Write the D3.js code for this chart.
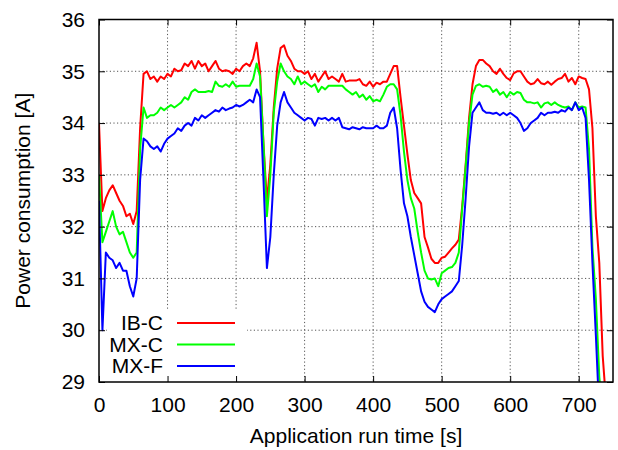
<!DOCTYPE html>
<meta charset="utf-8">
<style>
  body { margin: 0; background: #fff; }
  text { font-family: "Liberation Sans", Arial, sans-serif; font-size: 21px; fill: #000; }
</style>

<!-- Load d3.js -->
<script src="https://d3js.org/d3.v7.min.js"></script>

<div id="my_dataviz"></div>

<script>

    // run time [s]
    const time = [0,5,10,15,20,25,30,35,40,45,50,55,60,65,70,75,80,85,90,95,
        100,105,110,115,120,125,130,135,140,145,150,155,160,165,170,175,180,185,190,195,
        200,205,210,215,220,225,230,235,240,245,250,255,260,265,270,275,280,285,290,295,
        300,305,310,315,320,325,330,335,340,345,350,355,360,365,370,375,380,385,390,395,
        400,405,410,415,420,425,430,435,440,445,450,455,460,465,470,475,480,485,490,495,
        500,505,510,515,520,525,530,535,540,545,550,555,560,565,570,575,580,585,590,595,
        600,605,610,615,620,625,630,635,640,645,650,655,660,665,670,675,680,685,690,695,
        700,705,710,715,720,725,730,735,740];

    // power consumption [A] per configuration
    const ibC = [34.0,32.3,32.55,32.7,32.8,32.65,32.5,32.4,32.2,32.25,32.05,32.3,33.9,34.95,35.0,34.85,34.9,34.8,34.9,34.85,
        34.95,34.9,35.05,35.0,35.02,35.15,35.1,35.2,35.05,35.2,35.1,35.15,35.0,35.1,35.2,35.05,35.0,35.02,35.0,34.95,
        35.05,35.0,35.1,35.15,35.1,35.25,35.55,35.0,33.6,32.5,33.2,34.3,35.05,35.45,35.5,35.3,35.2,35.05,35.0,35.0,
        34.95,35.0,34.85,34.95,34.8,34.9,35.0,34.85,34.9,34.85,34.8,34.95,34.8,34.82,34.82,34.82,34.85,34.75,34.72,34.8,
        34.7,34.78,34.75,34.8,34.8,34.95,35.1,35.1,34.5,33.95,33.4,32.9,32.65,32.55,32.45,31.8,31.6,31.38,31.3,31.3,
        31.4,31.42,31.5,31.58,31.65,31.75,32.4,33.2,34.1,34.75,35.1,35.22,35.22,35.15,35.1,35.0,34.95,35.05,34.95,34.87,
        34.83,34.96,35.0,35.0,34.9,34.8,34.75,34.77,34.85,34.77,34.75,34.8,34.74,34.8,34.85,34.87,34.95,34.8,34.87,34.75,
        34.9,34.87,34.85,34.65,33.9,32.2,31.3,29.5,28.6];

    const mxC = [33.0,31.7,31.9,32.1,32.3,32.0,31.85,31.9,31.7,31.5,31.4,31.5,33.5,34.3,34.1,34.15,34.15,34.2,34.3,34.25,
        34.3,34.35,34.3,34.35,34.4,34.5,34.45,34.6,34.65,34.6,34.6,34.6,34.62,34.6,34.8,34.72,34.7,34.75,34.7,34.8,
        34.7,34.72,34.72,34.72,34.72,34.85,35.15,34.9,33.6,32.2,33.0,34.2,34.8,35.15,35.0,34.9,34.85,34.75,34.9,34.75,
        34.8,34.75,34.7,34.75,34.6,34.7,34.65,34.72,34.72,34.72,34.72,34.72,34.65,34.6,34.55,34.6,34.5,34.55,34.45,34.52,
        34.42,34.45,34.42,34.55,34.7,34.75,34.75,34.65,34.15,33.45,32.9,32.55,32.35,31.9,31.5,31.15,31.0,30.98,31.0,30.85,
        31.1,31.15,31.2,31.22,31.3,31.5,32.35,33.15,34.0,34.55,34.72,34.75,34.7,34.72,34.7,34.6,34.65,34.55,34.6,34.5,
        34.6,34.55,34.6,34.58,34.45,34.4,34.4,34.38,34.4,34.3,34.38,34.4,34.35,34.4,34.35,34.32,34.3,34.32,34.25,34.4,
        34.3,34.32,34.3,33.5,31.6,30.6,29.1,28.4,28.4];

    const mxF = [32.5,30.0,31.5,31.4,31.35,31.2,31.3,31.15,31.15,30.85,30.65,31.0,32.9,33.7,33.65,33.55,33.5,33.55,33.45,33.6,
        33.7,33.75,33.8,33.9,33.85,33.95,34.0,33.95,34.1,34.05,34.15,34.1,34.15,34.2,34.25,34.22,34.3,34.25,34.28,34.3,
        34.35,34.32,34.35,34.4,34.45,34.4,34.65,34.5,32.9,31.2,31.8,33.0,33.95,34.4,34.6,34.4,34.3,34.2,34.15,34.1,
        34.05,34.1,34.08,33.95,34.1,34.08,34.1,34.05,34.1,34.05,34.1,33.92,33.9,33.88,33.92,33.9,33.88,33.92,33.9,33.9,
        33.9,33.95,33.9,33.9,33.95,34.2,34.3,33.9,33.1,32.45,32.2,31.8,31.45,31.1,30.75,30.55,30.45,30.4,30.35,30.5,
        30.6,30.65,30.7,30.75,30.85,30.95,31.65,32.55,33.55,34.2,34.3,34.4,34.25,34.2,34.2,34.18,34.2,34.15,34.2,34.15,
        34.2,34.15,34.1,34.0,33.85,33.9,34.0,34.05,34.1,34.2,34.15,34.2,34.2,34.22,34.2,34.25,34.22,34.3,34.25,34.4,
        34.25,34.3,34.1,32.9,31.3,29.9,28.4,28.4,28.4];

    const seriesNames = ["IB-C", "MX-C", "MX-F"];
    const seriesColors = ["#ff0000", "#00ff00", "#0000ff"];
    const xTicks = [0, 100, 200, 300, 400, 500, 600, 700];
    const yTicks = [29, 30, 31, 32, 33, 34, 35, 36];

    // plot area
    let margin = { top: 19.5, right: 5, bottom: 68, left: 99 },
        W = 618, H = 450,
        width = W - margin.left - margin.right,
        height = H - margin.top - margin.bottom;

    let svg = d3.select("#my_dataviz")
        .append("svg")
        .attr("width", W)
        .attr("height", H)
        .append("g")
        .attr("transform", "translate(" + margin.left + "," + margin.top + ")");

    let x = d3.scaleLinear().domain([0, 750]).range([0, width]);
    let y = d3.scaleLinear().domain([29, 36]).range([height, 0]);

    // dotted grid
    let grid = svg.append("g").attr("stroke", "#555").attr("stroke-width", 1)
        .attr("stroke-dasharray", "1.2,2.4");
    grid.selectAll(".gx").data(xTicks.slice(1)).enter().append("line")
        .attr("x1", d => x(d)).attr("x2", d => x(d))
        .attr("y1", 0).attr("y2", height);
    grid.selectAll(".gy").data(yTicks.slice(1, -1)).enter().append("line")
        .attr("x1", 0).attr("x2", width)
        .attr("y1", d => y(d)).attr("y2", d => y(d));

    // opaque key background
    svg.append("rect")
        .attr("x", 8).attr("y", 291)
        .attr("width", 140).attr("height", height - 292)
        .attr("fill", "#fff");

    // clip
    svg.append("clipPath").attr("id", "clip")
        .append("rect").attr("width", width).attr("height", height);

    let line = d3.line()
        .x((d, i) => x(time[i]))
        .y(d => y(d));

    [ibC, mxC, mxF].forEach((vals, k) => {
        svg.append("path")
            .datum(vals)
            .attr("clip-path", "url(#clip)")
            .attr("fill", "none")
            .attr("stroke", seriesColors[k])
            .attr("stroke-width", 2)
            .attr("stroke-linejoin", "round")
            .attr("d", line);
    });

    // axes: ticks inside, mirrored
    let tickLen = 6;
    svg.append("g").attr("transform", "translate(0," + height + ")")
        .call(d3.axisBottom(x).tickValues(xTicks).tickSize(-tickLen).tickPadding(15))
        .call(g => g.select(".domain").remove());
    svg.append("g")
        .call(d3.axisTop(x).tickValues(xTicks).tickSize(-tickLen).tickFormat(""))
        .call(g => g.select(".domain").remove());
    svg.append("g")
        .call(d3.axisLeft(y).tickValues(yTicks).tickSize(-tickLen).tickPadding(14).tickFormat(d3.format("d")))
        .call(g => g.select(".domain").remove());
    svg.append("g").attr("transform", "translate(" + width + ",0)")
        .call(d3.axisRight(y).tickValues(yTicks).tickSize(-tickLen).tickFormat(""))
        .call(g => g.select(".domain").remove());

    svg.selectAll(".tick line").attr("stroke", "#000");
    svg.selectAll(".tick text")
        .style("font-family", "'Liberation Sans', Arial, sans-serif")
        .style("font-size", "21px")
        .attr("fill", "#000");

    // frame
    svg.append("rect")
        .attr("width", width).attr("height", height)
        .attr("fill", "none").attr("stroke", "#000").attr("stroke-width", 1.5);

    // key
    let key = svg.append("g").selectAll("g").data(seriesNames).enter().append("g")
        .attr("transform", (d, i) => "translate(0," + (303.5 + i * 21.5) + ")");
    key.append("text")
        .attr("x", 64).attr("y", 0).attr("dy", "0.35em")
        .style("text-anchor", "end")
        .text(d => d);
    key.append("line")
        .attr("x1", 78).attr("x2", 136)
        .attr("stroke", (d, i) => seriesColors[i])
        .attr("stroke-width", 2);

    // axis titles
    svg.append("text")
        .attr("x", width / 2).attr("y", 423.5)
        .style("text-anchor", "middle")
        .text("Application run time [s]");
    svg.append("text")
        .attr("transform", "translate(" + (30 - margin.left) + "," + (height / 2) + ") rotate(-90)")
        .style("text-anchor", "middle")
        .text("Power consumption [A]");

</script>
